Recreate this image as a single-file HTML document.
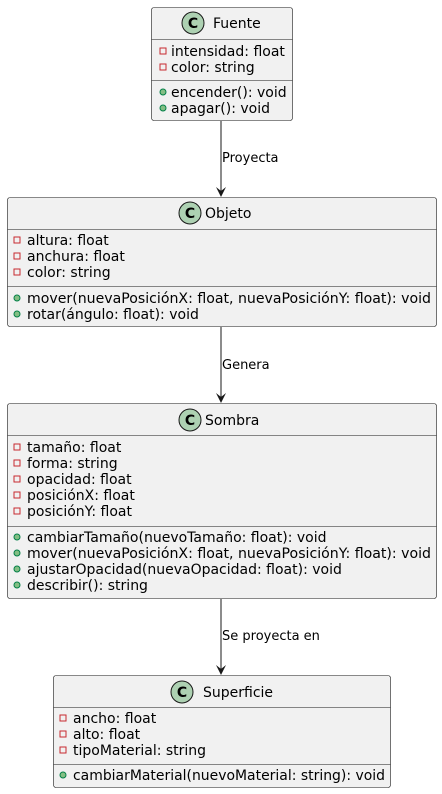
<!DOCTYPE html>
<html><head><meta charset="utf-8"><style>
html,body{margin:0;padding:0;background:#fff;}
svg{display:block;}
text{font-family:"DejaVu Sans","Liberation Sans",sans-serif;fill:#000;}
.t{font-size:14px;}
.h{font-size:14px;}
.l{font-size:13px;}
.b{fill:#f1f1f1;stroke:#181818;stroke-width:0.6;}
.s{stroke:#181818;stroke-width:0.6;}
.a{fill:none;stroke:#c82930;stroke-width:1;}
.m{fill:#84be84;stroke:#038048;stroke-width:1;}
.c{fill:#add1b2;stroke:#181818;stroke-width:1;}
</style></head><body>
<svg width="442" height="794" viewBox="0 0 442 794" xmlns="http://www.w3.org/2000/svg">
<g stroke="#181818" stroke-width="1">
<line x1="221" y1="121" x2="221" y2="195"/>
<line x1="221" y1="327" x2="221" y2="401"/>
<line x1="221" y1="599" x2="221" y2="673"/>
</g>
<g fill="#181818">
<polygon points="216,187 221,197 226,187 221,191"/>
<polygon points="216,393 221,403 226,393 221,397"/>
<polygon points="216,665 221,675 226,665 221,669"/>
</g>
<text class="l" x="222" y="162">Proyecta</text>
<text class="l" x="222" y="369">Genera</text>
<text class="l" x="222" y="640">Se proyecta en</text>

<rect class="b" x="151.5" y="7.5" width="141" height="113" rx="2.5"/>
<line class="s" x1="151.5" y1="39.5" x2="292.5" y2="39.5"/>
<line class="s" x1="151.5" y1="80.5" x2="292.5" y2="80.5"/>
<circle class="c" cx="193" cy="23" r="11"/>
<text x="193" y="28" text-anchor="middle" style="font-size:14px;font-weight:bold">C</text>
<text class="h" x="213" y="28">Fuente</text>
<rect class="a" x="160" y="48" width="6" height="6"/>
<text class="t" x="171" y="56">intensidad: float</text>
<rect class="a" x="160" y="64" width="6" height="6"/>
<text class="t" x="171" y="72">color: string</text>
<circle class="m" cx="163" cy="92" r="3"/>
<text class="t" x="171" y="97">encender(): void</text>
<circle class="m" cx="163" cy="108" r="3"/>
<text class="t" x="171" y="113">apagar(): void</text>

<rect class="b" x="7.5" y="197.5" width="429" height="129" rx="2.5"/>
<line class="s" x1="7.5" y1="229.5" x2="436.5" y2="229.5"/>
<line class="s" x1="7.5" y1="286.5" x2="436.5" y2="286.5"/>
<circle class="c" cx="190" cy="213" r="11"/>
<text x="190" y="218" text-anchor="middle" style="font-size:14px;font-weight:bold">C</text>
<text class="h" x="205" y="218">Objeto</text>
<rect class="a" x="14" y="237" width="6" height="6"/>
<text class="t" x="27" y="245">altura: float</text>
<rect class="a" x="14" y="253" width="6" height="6"/>
<text class="t" x="27" y="261">anchura: float</text>
<rect class="a" x="14" y="269" width="6" height="6"/>
<text class="t" x="27" y="277">color: string</text>
<circle class="m" cx="17" cy="298" r="3"/>
<text class="t" x="27" y="303" textLength="404" lengthAdjust="spacingAndGlyphs">mover(nuevaPosiciónX: float, nuevaPosiciónY: float): void</text>
<circle class="m" cx="17" cy="314" r="3"/>
<text class="t" x="27" y="319">rotar(ángulo: float): void</text>

<rect class="b" x="7.5" y="403.5" width="429" height="195" rx="2.5"/>
<line class="s" x1="7.5" y1="435.5" x2="436.5" y2="435.5"/>
<line class="s" x1="7.5" y1="526.5" x2="436.5" y2="526.5"/>
<circle class="c" cx="190" cy="420" r="11"/>
<text x="190" y="425" text-anchor="middle" style="font-size:14px;font-weight:bold">C</text>
<text class="h" x="205" y="425">Sombra</text>
<rect class="a" x="14" y="444" width="6" height="6"/>
<text class="t" x="27" y="452">tamaño: float</text>
<rect class="a" x="14" y="460" width="6" height="6"/>
<text class="t" x="27" y="468">forma: string</text>
<rect class="a" x="14" y="476" width="6" height="6"/>
<text class="t" x="27" y="484">opacidad: float</text>
<rect class="a" x="14" y="492" width="6" height="6"/>
<text class="t" x="27" y="500">posiciónX: float</text>
<rect class="a" x="14" y="508" width="6" height="6"/>
<text class="t" x="27" y="516">posiciónY: float</text>
<circle class="m" cx="17" cy="537" r="3"/>
<text class="t" x="27" y="542">cambiarTamaño(nuevoTamaño: float): void</text>
<circle class="m" cx="17" cy="553" r="3"/>
<text class="t" x="27" y="558" textLength="404" lengthAdjust="spacingAndGlyphs">mover(nuevaPosiciónX: float, nuevaPosiciónY: float): void</text>
<circle class="m" cx="17" cy="569" r="3"/>
<text class="t" x="27" y="574">ajustarOpacidad(nuevaOpacidad: float): void</text>
<circle class="m" cx="17" cy="585" r="3"/>
<text class="t" x="27" y="590">describir(): string</text>

<rect class="b" x="53.5" y="675.5" width="337" height="112" rx="2.5"/>
<line class="s" x1="53.5" y1="707.5" x2="390.5" y2="707.5"/>
<line class="s" x1="53.5" y1="764.5" x2="390.5" y2="764.5"/>
<circle class="c" cx="182" cy="692" r="11"/>
<text x="182" y="697" text-anchor="middle" style="font-size:14px;font-weight:bold">C</text>
<text class="h" x="203" y="697">Superficie</text>
<rect class="a" x="60" y="715" width="6" height="6"/>
<text class="t" x="73" y="723">ancho: float</text>
<rect class="a" x="60" y="731" width="6" height="6"/>
<text class="t" x="73" y="739">alto: float</text>
<rect class="a" x="60" y="747" width="6" height="6"/>
<text class="t" x="73" y="755">tipoMaterial: string</text>
<circle class="m" cx="63" cy="775" r="3"/>
<text class="t" x="73" y="780" textLength="312" lengthAdjust="spacingAndGlyphs">cambiarMaterial(nuevoMaterial: string): void</text>
</svg>
</body></html>
